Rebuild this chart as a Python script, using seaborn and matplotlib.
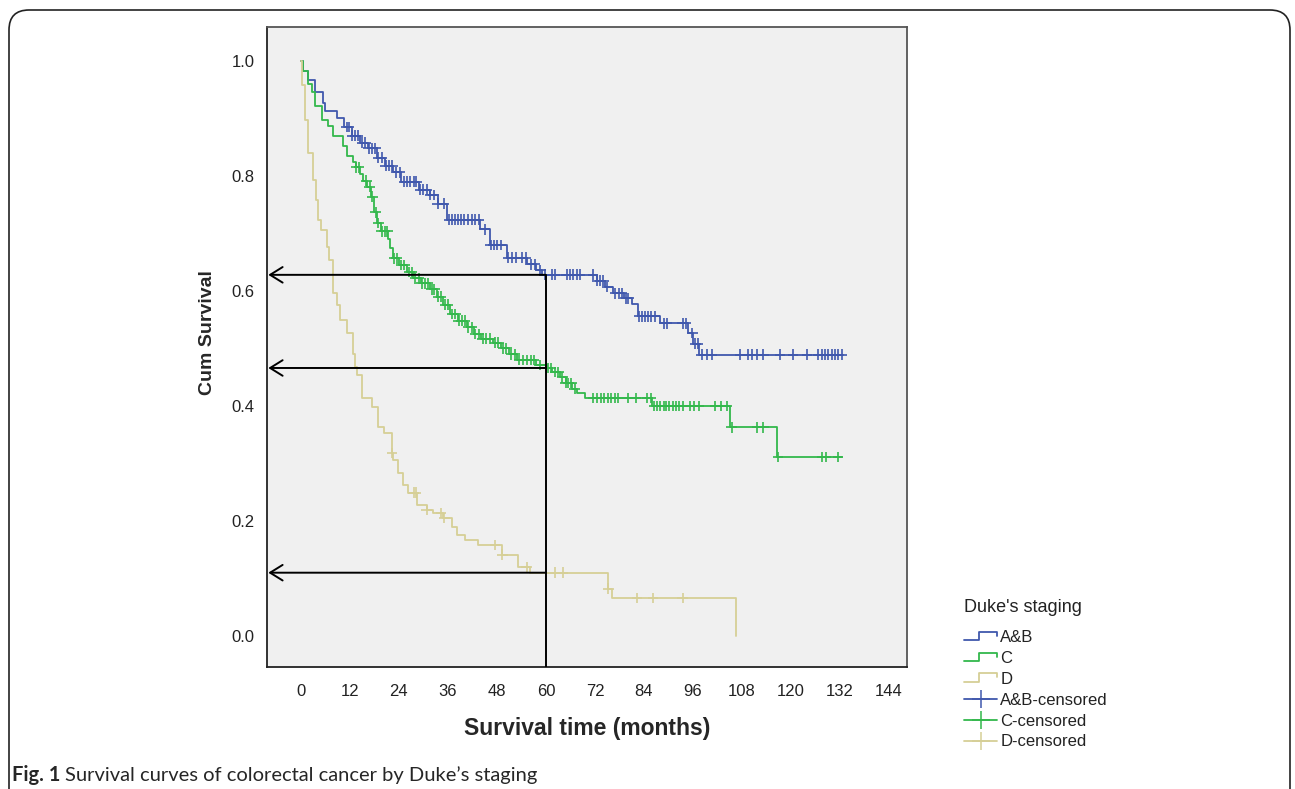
import numpy as np
import pandas as pd
import matplotlib
matplotlib.use("Agg")
import matplotlib.pyplot as plt
import seaborn as sns
from matplotlib.lines import Line2D
from matplotlib.legend_handler import HandlerBase
from matplotlib.patches import FancyBboxPatch

# Kaplan-Meier steps (months, survival after the event)
ab_time = [0.5, 1.7, 3.4, 5.4, 5.8, 8.8, 10.5, 12.5, 14.5, 16.5, 18.6, 20.5, 22.5, 24.5,
           29.0, 31.5, 33.5, 35.7, 43.8, 46.3, 50.4, 55.3, 57.5, 59.0,
           72.5, 74.5, 76.5, 79.0, 81.0, 82.5, 88.0, 94.8, 96.0, 97.5]
ab_surv = [0.982, 0.967, 0.946, 0.927, 0.913, 0.900, 0.885, 0.870, 0.858, 0.848, 0.832, 0.818, 0.806, 0.790,
           0.776, 0.767, 0.752, 0.724, 0.707, 0.680, 0.658, 0.646, 0.636, 0.628,
           0.618, 0.607, 0.596, 0.587, 0.578, 0.556, 0.544, 0.527, 0.508, 0.489]
ab_end = 132.7
ab_censor = [11.2, 11.8, 12.6, 13.3, 14.0, 15.0, 15.8, 16.6, 17.5, 18.2, 19.0, 19.8, 20.8, 21.6,
             22.4, 23.3, 24.2, 25.3, 26.0, 26.8, 27.6, 28.3, 29.2, 30.0, 30.8, 31.7, 32.5, 33.5,
             35.0, 36.3, 37.0, 37.7, 38.4, 39.2, 40.0, 41.0, 41.8, 42.7, 43.5, 45.0, 46.5, 47.2,
             48.0, 49.0, 50.8, 51.7, 52.6, 54.2, 55.0, 56.3, 57.2, 58.6, 59.8, 61.5, 62.2, 65.1,
             65.8, 66.6, 67.5, 68.3, 71.5, 72.5, 73.3, 74.0, 75.0, 77.0, 77.8, 78.6, 79.5, 80.2,
             82.8, 83.5, 84.3, 85.0, 85.8, 86.6, 89.0, 89.6, 93.5, 94.2, 95.8, 96.6, 97.2, 98.1,
             99.4, 100.6, 107.5, 109.5, 110.4, 111.6, 113.2, 117.3, 120.5, 123.9, 126.6, 127.5,
             128.4, 129.1, 130.0, 130.8, 131.5, 132.5]

c_time = [0.5, 1.7, 2.7, 3.4, 5.1, 6.6, 7.8, 10.3, 11.3, 12.7, 13.5, 14.5, 15.2, 16.3, 17.2,
          17.8, 18.6, 19.5, 21.3, 21.8, 22.5, 24.0, 26.0, 27.5, 29.5, 31.5, 33.3, 34.8, 36.5,
          38.5, 40.6, 42.5, 44.0, 47.0, 49.0, 51.0, 53.0, 57.5, 60.3, 61.5, 63.5, 64.8, 66.3,
          67.5, 69.5, 86.0, 105.0, 116.5]
c_surv = [0.982, 0.960, 0.946, 0.922, 0.897, 0.886, 0.870, 0.852, 0.834, 0.824, 0.815, 0.803,
          0.792, 0.781, 0.764, 0.737, 0.718, 0.704, 0.690, 0.675, 0.657, 0.645, 0.633, 0.622,
          0.613, 0.603, 0.590, 0.576, 0.560, 0.548, 0.537, 0.525, 0.517, 0.510, 0.500, 0.490,
          0.480, 0.471, 0.466, 0.459, 0.450, 0.440, 0.430, 0.422, 0.414, 0.400, 0.363, 0.311]
c_end = 132.5
c_censor = [13.5, 14.2, 16.0, 16.8, 17.5, 18.3, 19.0, 19.8, 20.5, 21.2, 22.8, 23.5, 24.6, 25.3,
            26.5, 27.2, 28.0, 28.8, 29.6, 30.3, 31.0, 32.0, 32.7, 33.6, 34.3, 35.3, 36.0, 37.0,
            37.8, 38.6, 39.4, 40.2, 41.0, 41.8, 42.6, 43.5, 44.5, 45.3, 46.2, 47.5, 48.3, 49.5,
            50.3, 51.5, 52.3, 53.5, 54.5, 55.3, 56.3, 57.0, 58.5, 60.5, 61.2, 62.3, 63.0, 64.0,
            64.8, 65.5, 66.2, 67.0, 71.5, 72.5, 73.5, 74.3, 75.2, 76.0, 76.8, 77.6, 80.0, 82.0,
            84.8, 85.6, 86.5, 87.2, 88.0, 88.8, 89.5, 90.2, 91.0, 91.8, 92.6, 93.5, 95.3, 96.3,
            97.5, 101.4, 102.8, 104.3, 105.5, 111.7, 113.2, 116.8, 127.6, 128.5, 131.5]

d_time = [0.2, 1.0, 1.8, 3.0, 3.6, 4.3, 5.0, 6.4, 7.0, 7.9, 8.8, 9.6, 11.3, 12.7, 13.2, 13.7,
          15.0, 17.4, 18.9, 20.4, 22.3, 22.6, 23.8, 25.0, 26.2, 28.4, 30.8, 32.3, 34.8, 37.0,
          38.2, 40.2, 43.4, 49.2, 53.2, 56.0, 75.2, 76.2, 106.5]
d_surv = [0.958, 0.897, 0.840, 0.793, 0.758, 0.723, 0.706, 0.677, 0.654, 0.597, 0.575, 0.550,
          0.527, 0.490, 0.468, 0.454, 0.414, 0.398, 0.363, 0.353, 0.318, 0.306, 0.283, 0.263,
          0.249, 0.228, 0.219, 0.214, 0.205, 0.190, 0.176, 0.167, 0.158, 0.141, 0.120, 0.110,
          0.082, 0.066, 0.0]
d_end = 106.5
d_censor = [22.3, 27.6, 28.2, 30.8, 34.3, 35.1, 47.5, 49.3, 55.3, 62.2, 64.2, 75.3, 82.3, 86.2, 93.5]

groups = ["A&B", "C", "D"]
colors = ["#4058ad", "#33b84c", "#d6cf96"]
arrow_levels = [0.628, 0.466, 0.110]
x_ticks = list(range(0, 145, 12))
y_ticks = [0.0, 0.2, 0.4, 0.6, 0.8, 1.0]

series = {"A&B": (ab_time, ab_surv, ab_end, ab_censor),
          "C": (c_time, c_surv, c_end, c_censor),
          "D": (d_time, d_surv, d_end, d_censor)}

curve_rows, cens_rows = [], []
for g in groups:
    times, surv, end, cens = series[g]
    t = [0.0] + times + [end]
    s = [1.0] + surv + [surv[-1]]
    for ti, si in zip(t, s):
        curve_rows.append((g, ti, si))
    tt = np.array([0.0] + times)
    ss = np.array([1.0] + surv)
    for c in cens:
        cens_rows.append((g, c, ss[np.searchsorted(tt, c, side="right") - 1]))
curves = pd.DataFrame(curve_rows, columns=["group", "time", "surv"])
censored = pd.DataFrame(cens_rows, columns=["group", "time", "surv"])
palette = dict(zip(groups, colors))

sns.set_style("white")
plt.rcParams["font.family"] = ["Liberation Sans", "DejaVu Sans"]

fig = plt.figure(figsize=(12.95, 7.89), dpi=100)
ax = fig.add_axes([267 / 1295, 1 - 667 / 789, 640 / 1295, 640 / 789])
ax.set_facecolor("#f0f0f0")

sns.lineplot(data=curves, x="time", y="surv", hue="group", palette=palette, estimator=None,
             sort=False, drawstyle="steps-post", lw=1.3, legend=False, ax=ax)
sns.scatterplot(data=censored, x="time", y="surv", hue="group", palette=palette, marker="+",
                s=60, linewidth=1.2, legend=False, ax=ax, zorder=3)

# reference lines at 60 months
ax.vlines(60, -0.06, arrow_levels[0], color="black", lw=1.4, zorder=4)
for lvl in arrow_levels:
    ax.annotate("", xy=(0.002, lvl), xycoords=("axes fraction", "data"), xytext=(60, lvl),
                textcoords="data",
                arrowprops=dict(arrowstyle="->,head_length=0.45,head_width=0.28", color="black",
                                lw=1.4, shrinkA=0, shrinkB=0, mutation_scale=20), zorder=4)

ax.set_xlim(-8.3, 148.4)
ax.set_ylim(-0.054, 1.059)
ax.set_xticks(x_ticks)
ax.set_yticks(y_ticks)
ax.set_yticklabels([f"{v:.1f}" for v in y_ticks])
ax.tick_params(axis="both", direction="out", length=7, width=1.3, color="#222222",
               labelsize=12, labelcolor="#222222")
ax.tick_params(axis="x", pad=5)
ax.tick_params(axis="y", pad=2)
for side, sp in ax.spines.items():
    sp.set_visible(True)
    sp.set_linewidth(1.3)
    sp.set_color("#222222" if side in ("left", "bottom") else "#555555")

ax.set_xlabel("Survival time (months)", fontsize=16.5, fontweight="bold")
ax.set_ylabel("Cum Survival", fontsize=14, fontweight="bold")
ax.xaxis.set_label_coords(0.5, (667 - 728) / 640)
ax.xaxis.label.set_va("center")
ax.yaxis.set_label_coords((208 - 267) / 640, (667 - 333) / 640)
ax.yaxis.label.set_va("center")


class StepHandler(HandlerBase):
    def create_artists(self, legend, orig_handle, xdescent, ydescent, width, height, fontsize, trans):
        xs = np.array([0, 0.45, 0.45, 1.0, 1.0]) * width - xdescent
        ys = np.array([0.2, 0.2, 0.9, 0.9, 0.55]) * height - ydescent
        ln = Line2D(xs, ys, color=orig_handle.get_color(), lw=1.3)
        ln.set_transform(trans)
        return [ln]


step_handles = [Line2D([], [], color=c, lw=1.3) for c in colors]
cens_handles = [Line2D([], [], color=c, lw=1.3, marker="+", markersize=13, markeredgewidth=1.1)
                for c in colors]
labels = groups + [g + "-censored" for g in groups]
leg = fig.legend(step_handles + cens_handles, labels, loc="upper left",
                 bbox_to_anchor=(956 / 1295, 1 - 591 / 789), frameon=False,
                 title="Duke's staging", title_fontsize=13, fontsize=12,
                 handlelength=1.95, handletextpad=0.2, labelspacing=0.35, borderpad=0,
                 alignment="left", handler_map={h: StepHandler() for h in step_handles})
leg._legend_box.sep = 10
leg.get_title().set_color("#222222")
for t in leg.get_texts():
    t.set_color("#222222")

# outer frame and caption
frame = FancyBboxPatch((0.09, -0.5), 12.81, 8.29, boxstyle="round,pad=0,rounding_size=0.2",
                       transform=fig.dpi_scale_trans, fill=False, edgecolor="#222222", lw=1.2)
fig.patches.append(frame)

cap_y = 1 - 775 / 789
t1 = fig.text(12 / 1295, cap_y, "Fig. 1", fontsize=14.5, fontweight="bold", va="center",
              family=["Lato", "DejaVu Sans"])
fig.canvas.draw()
bb = t1.get_window_extent(renderer=fig.canvas.get_renderer())
fig.text((bb.x1 + 5) / 1295, cap_y, "Survival curves of colorectal cancer by Duke\u2019s staging",
         fontsize=14.5, va="center", family=["Lato", "DejaVu Sans"])

fig.savefig("out.png", dpi=100)
